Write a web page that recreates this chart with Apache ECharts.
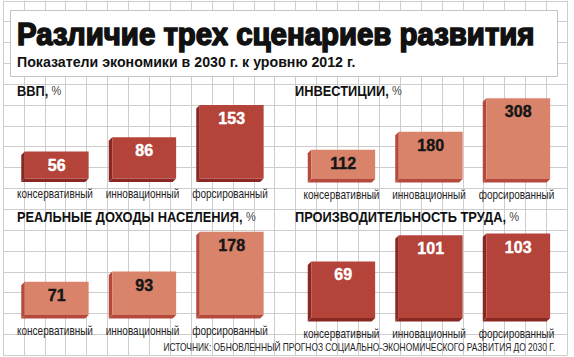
<!DOCTYPE html>
<html><head><meta charset="utf-8">
<script src="https://cdn.jsdelivr.net/npm/echarts@6/dist/echarts.min.js"></script>
<style>html,body{margin:0;padding:0;background:#fff}#c{width:574px;height:357px}</style>
</head><body><div id="c"></div>
<script>
// ---- data ----
const categories = ['консервативный', 'инновационный', 'форсированный'];
const gdp = [56, 86, 153];
const investment = [112, 180, 308];
const income = [71, 93, 178];
const productivity = [69, 101, 103];
const panelTitles = ['ВВП,', 'ИНВЕСТИЦИИ,', 'РЕАЛЬНЫЕ ДОХОДЫ НАСЕЛЕНИЯ,', 'ПРОИЗВОДИТЕЛЬНОСТЬ ТРУДА,'];
const unitText = '%';
const titleText = 'Различие трех сценариев развития';
const subtitleText = 'Показатели экономики в 2030 г. к уровню 2012 г.';
const sourceText = 'ИСТОЧНИК: ОБНОВЛЕННЫЙ ПРОГНОЗ СОЦИАЛЬНО-ЭКОНОМИЧЕСКОГО РАЗВИТИЯ ДО 2030 Г.';

// ---- layout helpers ----
const FF = '"Liberation Sans", Arial, sans-serif';
const mctx = document.createElement('canvas').getContext('2d');
function fit(text, font, target) { mctx.font = font; return target / mctx.measureText(text).width; }

const DARK = { front: '#b4433a', side: '#8a2722', text: '#ffffff' };
const LIGHT = { front: '#d9836a', side: '#b54a3c', text: '#161616' };

const panels = [
  { values: gdp, pal: DARK, left: 11.75, top: 82.5, height: 96, max: 200, title: panelTitles[0], tx: 17, ty: 91 },
  { values: investment, pal: LIGHT, left: 298.25, top: 89.9, height: 89.1, max: 340, title: panelTitles[1], tx: 295, ty: 91 },
  { values: income, pal: LIGHT, left: 11.75, top: 221.6, height: 93.4, max: 200, title: panelTitles[2], tx: 17, ty: 217 },
  { values: productivity, pal: DARK, left: 298.25, top: 227.8, height: 90.2, max: 110, title: panelTitles[3], tx: 295, ty: 217 }
];

const catScale = fit(categories[0], '12px ' + FF, 76);
const headScale = fit(panelTitles[2], 'bold 14px ' + FF, 226);

function makeRender(pal) {
  return function (params, api) {
    const cat = api.value(0), val = api.value(1);
    const top = api.coord([cat, val]);
    const base = api.coord([cat, 0]);
    const band = api.size([1, 0])[0];
    const bw = band * 0.73;
    const d = 3.5;
    const cx = top[0] + 1.2;
    const x0 = cx - bw / 2, x1 = cx + bw / 2;
    const yt = top[1], yb = base[1];
    return {
      type: 'group',
      children: [
        { type: 'polygon', shape: { points: [[x0, yt], [x0 - d, yt + d], [x0 - d, yb + d], [x0, yb]] }, style: { fill: pal.side } },
        { type: 'polygon', shape: { points: [[x0 - d, yb + d], [x0, yb], [x1, yb], [x1 - d, yb + d]] }, style: { fill: pal.side } },
        { type: 'rect', shape: { x: x0, y: yt, width: bw, height: yb - yt }, style: { fill: pal.front } },
        { type: 'text', x: cx, y: yt + 13.5, style: { text: String(val), fill: pal.text, stroke: pal.text, lineWidth: 0.4, font: 'bold 16px ' + FF, align: 'center', verticalAlign: 'middle', textAlign: 'center', textVerticalAlign: 'middle' } },
        { type: 'text', x: top[0] - 0.5, y: yb + 15.5, scaleX: catScale, style: { text: categories[cat], fill: '#222', font: '12px ' + FF, align: 'center', verticalAlign: 'middle', textAlign: 'center', textVerticalAlign: 'middle' } }
      ]
    };
  };
}

const grids = panels.map(p => ({ left: p.left, top: p.top, width: 262.5, height: p.height }));
grids.push({ left: 3, top: 0.75, right: 6.7, bottom: 1.8 });

const xAxes = panels.map((p, i) => ({ type: 'category', gridIndex: i, data: categories, show: false }));
xAxes.push({ type: 'value', gridIndex: 4, min: 0, max: 27, interval: 1, axisLine: { show: false }, axisTick: { show: false }, axisLabel: { show: false },
  splitLine: { show: true, showMinLine: true, showMaxLine: true, lineStyle: { color: '#cdcdcd', width: 1 } } });
const yAxes = panels.map((p, i) => ({ type: 'value', gridIndex: i, min: 0, max: p.max, show: false }));
yAxes.push({ type: 'value', gridIndex: 4, min: 0, max: 17, interval: 1, axisLine: { show: false }, axisTick: { show: false }, axisLabel: { show: false },
  splitLine: { show: true, showMinLine: true, showMaxLine: true, lineStyle: { color: '#cdcdcd', width: 1 } } });

const series = panels.map((p, i) => ({
  type: 'custom', xAxisIndex: i, yAxisIndex: i, z: 3,
  data: p.values.map((v, j) => [j, v]),
  renderItem: makeRender(p.pal)
}));

const graphic = [
  { type: 'rect', z: 5, shape: { x: 10.5, y: 10.5, width: 547, height: 66 }, style: { fill: '#fff', stroke: '#c4c4c4', lineWidth: 1 } },
  { type: 'text', z: 6, x: 17, y: 34, scaleX: fit(titleText, 'bold 31px ' + FF, 518),
    style: { text: titleText, font: 'bold 31px ' + FF, fill: '#111', stroke: '#111', lineWidth: 1.6, align: 'left', verticalAlign: 'middle', textAlign: 'left', textVerticalAlign: 'middle' } },
  { type: 'text', z: 6, x: 17, y: 62, scaleX: fit(subtitleText, 'bold 14px ' + FF, 339),
    style: { text: subtitleText, font: 'bold 14px ' + FF, fill: '#111', align: 'left', verticalAlign: 'middle', textAlign: 'left', textVerticalAlign: 'middle' } },
  { type: 'text', z: 6, x: 555, y: 347, scaleX: fit(sourceText, '10.5px ' + FF, 392),
    style: { text: sourceText, font: '10.5px ' + FF, fill: '#222', align: 'right', verticalAlign: 'middle', textAlign: 'right', textVerticalAlign: 'middle' } }
];
panels.forEach(p => {
  graphic.push({ type: 'text', z: 6, x: p.tx, y: p.ty, scaleX: headScale,
    style: { text: '{b|' + p.title + '} {u|' + unitText + '}', align: 'left', verticalAlign: 'middle', textAlign: 'left', textVerticalAlign: 'middle',
      rich: { b: { fontFamily: FF, fontWeight: 'bold', fontSize: 14, fill: '#111', color: '#111' }, u: { fontFamily: FF, fontSize: 12, fill: '#444', color: '#444' } } } });
});

const chart = echarts.init(document.getElementById('c'), null, { renderer: 'svg' });
chart.setOption({
  animation: false,
  backgroundColor: '#ffffff',
  grid: grids, xAxis: xAxes, yAxis: yAxes, series: series, graphic: graphic
});
</script></body></html>
